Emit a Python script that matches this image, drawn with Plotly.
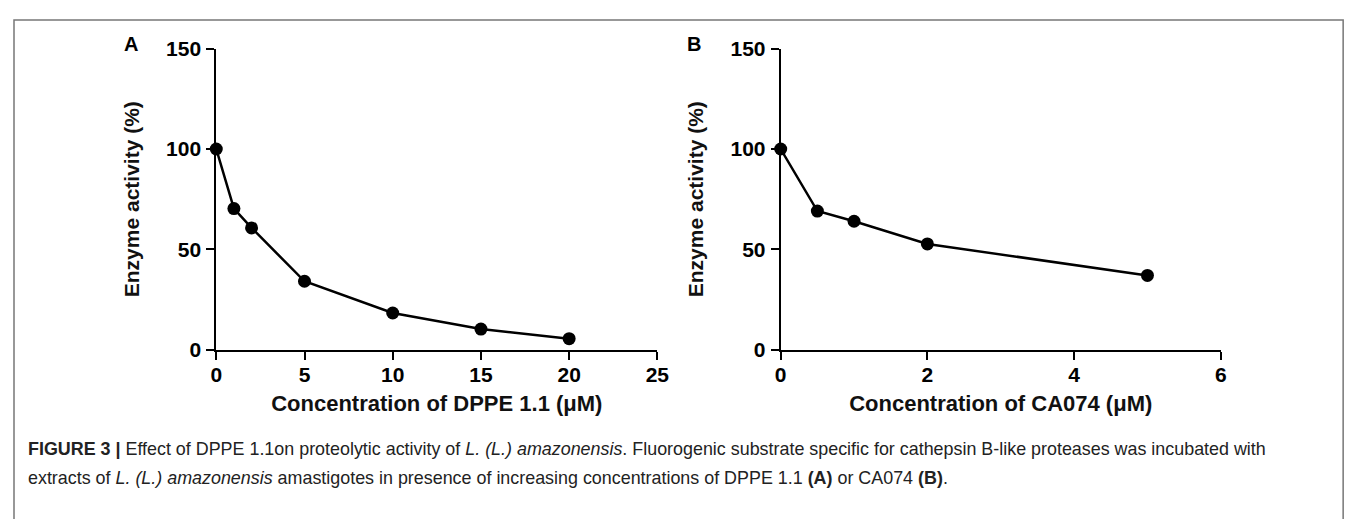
import plotly.graph_objects as go

# Data
dppe_conc = [0, 1, 2, 5, 10, 15, 20]
dppe_activity = [100, 70.3, 60.7, 34.1, 18.3, 10.3, 5.5]
ca074_conc = [0, 0.5, 1, 2, 5]
ca074_activity = [100, 69.1, 64.0, 52.7, 37.0]

W, H = 1358, 519
OFF = 8  # default page body margin
def px(x): return (x - OFF) / W
def py(y): return 1 - (y - OFF) / H

FONT = "Arial, Liberation Sans, sans-serif"

fig = go.Figure()
line_style = dict(color="black", width=2.5)
marker_style = dict(color="black", size=13, symbol="circle")
fig.add_trace(go.Scatter(x=dppe_conc, y=dppe_activity, mode="lines+markers",
                         line=line_style, marker=marker_style, xaxis="x", yaxis="y",
                         showlegend=False, cliponaxis=False))
fig.add_trace(go.Scatter(x=ca074_conc, y=ca074_activity, mode="lines+markers",
                         line=line_style, marker=marker_style, xaxis="x2", yaxis="y2",
                         showlegend=False, cliponaxis=False))

tickfont = dict(family=FONT, size=21, color="black", weight="bold")
ytitlefont = dict(family=FONT, size=21, color="#111111", weight="bold")
xtitlefont = dict(family=FONT, size=22, color="#111111", weight="bold")
axis_common = dict(showline=True, linecolor="black", linewidth=2, ticks="outside",
                   ticklen=8, tickwidth=2, tickcolor="black", showgrid=False,
                   zeroline=False, tickfont=tickfont)

ydom = [py(353), py(38)]
fig.update_layout(
    width=W, height=H, margin=dict(l=0, r=0, t=0, b=0),
    paper_bgcolor="white", plot_bgcolor="white",
    xaxis=dict(domain=[px(213), px(660)], range=[0, 25], tickvals=[0, 5, 10, 15, 20, 25],
               anchor="y", ticklabelstandoff=-3,
               title=dict(text="Concentration of DPPE 1.1 (μM)", font=xtitlefont, standoff=11),
               **axis_common),
    yaxis=dict(domain=ydom, range=[0, 150], tickvals=[0, 50, 100, 150], anchor="x",
               ticklabelstandoff=1,
               title=dict(text="Enzyme activity (%)", font=ytitlefont, standoff=21),
               **axis_common),
    xaxis2=dict(domain=[px(785), px(1231)], range=[0, 6], tickvals=[0, 2, 4, 6],
                anchor="y2", ticklabelstandoff=-3,
                title=dict(text="Concentration of CA074 (μM)", font=xtitlefont, standoff=11),
                **axis_common),
    yaxis2=dict(domain=ydom, range=[0, 150], tickvals=[0, 50, 100, 150], anchor="x2",
                ticklabelstandoff=1,
                title=dict(text="Enzyme activity (%)", font=ytitlefont, standoff=21),
                **axis_common),
)

# Panel letters
for letter, x in [("A", 127), ("B", 697)]:
    fig.add_annotation(text=letter, x=px(x), y=py(33), xref="paper", yref="paper",
                       showarrow=False, xanchor="center", yanchor="middle",
                       font=dict(family=FONT, size=20, color="black", weight="bold"))

# Caption
cap1 = ("<b>FIGURE 3 |</b> Effect of DPPE 1.1on proteolytic activity of <i>L. (L.) amazonensis</i>. "
        "Fluorogenic substrate specific for cathepsin B-like proteases was incubated with")
cap2 = ("extracts of <i>L. (L.) amazonensis</i> amastigotes in presence of increasing concentrations "
        "of DPPE 1.1 <b>(A)</b> or CA074 <b>(B)</b>.")
for txt, y in [(cap1, 457), (cap2, 487)]:
    fig.add_annotation(text=txt, x=px(20), y=py(y), xref="paper", yref="paper",
                       showarrow=False, xanchor="left", yanchor="middle",
                       font=dict(family=FONT, size=17.9, color="#222222"))

# Outer border
fig.add_shape(type="rect", xref="paper", yref="paper", x0=px(8), x1=px(1355),
              y0=py(540), y1=py(8), line=dict(color="#777777", width=1.5))

fig.write_html("out.html", config={"displayModeBar": False})
